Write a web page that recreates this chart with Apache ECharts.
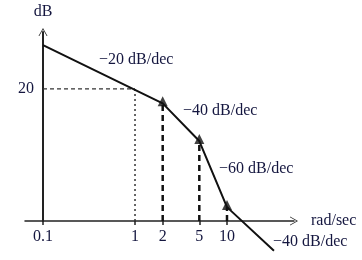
<!DOCTYPE html>
<html><head><meta charset="utf-8">
<script src="https://cdn.jsdelivr.net/npm/echarts@6/dist/echarts.min.js"></script>
<style>html,body{margin:0;padding:0;background:#fff}#c{width:362px;height:260px}</style>
</head><body><div id="c"></div>
<script>
// Asymptotic Bode magnitude plot (schematic)
const breakFreqs = [0.1, 2, 5, 10, 32.4];
const magnitudes = [26.6, 17.8, 12.1, 2.1, -4.5];
const markerFreqs = [2, 5, 10];
const markerMags = [17.8, 12.1, 2.1];
const guideFreq = 1;
const guideMag = 20;
const xTickValues = [0.1, 1, 2, 5, 10];
const xTickLabels = ['0.1', '1', '2', '5', '10'];
const yTickValues = [20];
const yTickLabels = ['20'];
const slopeTexts = ['\u221220 dB/dec', '\u221240 dB/dec', '\u221260 dB/dec', '\u221240 dB/dec'];

const FONT = '"Liberation Serif", "DejaVu Serif", serif';
const TXT = '#14163f';
const ARROW = 'path://M0 0 L9 16 L7.4 16 L0 3 L-7.4 16 L-9 16 Z';
const chart = echarts.init(document.getElementById('c'));

const series = [];
series.push({
  type: 'line', data: breakFreqs.map((f, i) => [f, magnitudes[i]]),
  symbol: 'none', clip: false, lineStyle: { color: '#111', width: 2 }, z: 5
});
series.push({
  type: 'scatter', data: markerFreqs.map((f, i) => [f, markerMags[i]]),
  symbol: 'triangle', symbolSize: [10, 10], symbolOffset: [0, -2], itemStyle: { color: '#111' }, z: 6
});
markerFreqs.forEach((f, i) => {
  series.push({
    type: 'line', data: [[f, 0], [f, markerMags[i]]], symbol: 'none',
    lineStyle: { color: '#111', width: 2.5, type: [6, 4] }, z: 3
  });
});
series.push({
  type: 'line', data: [[guideFreq, 0], [guideFreq, guideMag]], symbol: 'none',
  lineStyle: { color: '#333', width: 1.5, type: [2, 3] }, z: 3
});
series.push({
  type: 'line', data: [[xTickValues[0], guideMag], [guideFreq, guideMag]], symbol: 'none',
  lineStyle: { color: '#333', width: 1.3, type: [4, 3] }, z: 3
});

chart.setOption({
  animation: false,
  grid: { left: 25, right: 68, top: 32, bottom: 39 },
  xAxis: {
    type: 'log', logBase: 10, min: 0.0637, max: 53.5,
    name: 'rad/sec', nameLocation: 'end', nameGap: 17,
    nameTextStyle: { fontFamily: FONT, fontSize: 16, color: TXT, verticalAlign: 'middle', padding: [14, 0, 0, 0] },
    axisLine: { lineStyle: { color: '#222', width: 1.5 }, symbol: ['none', ARROW], symbolSize: [9, 16] },
    axisTick: { customValues: xTickValues, length: 4, lineStyle: { color: '#222', width: 1.5 } },
    axisLabel: {
      customValues: xTickValues, margin: 8,
      formatter: v => { const i = xTickValues.findIndex(t => Math.abs(t - v) < 1e-9); return i >= 0 ? xTickLabels[i] : ''; },
      fontFamily: FONT, fontSize: 16, color: TXT
    },
    splitLine: { show: false }, minorTick: { show: false }
  },
  yAxis: {
    type: 'value', min: 0, max: 28.6, offset: -18,
    name: 'dB', nameLocation: 'end', nameGap: 12,
    nameTextStyle: { fontFamily: FONT, fontSize: 16, color: TXT, align: 'center' },
    axisLine: { show: true, lineStyle: { color: '#222', width: 2 }, symbol: ['none', ARROW], symbolSize: [9, 16] },
    axisTick: { show: false },
    axisLabel: {
      customValues: yTickValues, margin: 9,
      formatter: v => { const i = yTickValues.indexOf(v); return i >= 0 ? yTickLabels[i] : ''; },
      fontFamily: FONT, fontSize: 16, color: TXT
    },
    splitLine: { show: false }
  },
  graphic: [
    { type: 'text', left: 99, top: 52, style: { text: slopeTexts[0], font: '16px ' + FONT, fill: TXT } },
    { type: 'text', left: 183, top: 103, style: { text: slopeTexts[1], font: '16px ' + FONT, fill: TXT } },
    { type: 'text', left: 219, top: 161, style: { text: slopeTexts[2], font: '16px ' + FONT, fill: TXT } },
    { type: 'text', left: 273, top: 234, style: { text: slopeTexts[3], font: '16px ' + FONT, fill: TXT } }
  ],
  series
});
</script></body></html>
